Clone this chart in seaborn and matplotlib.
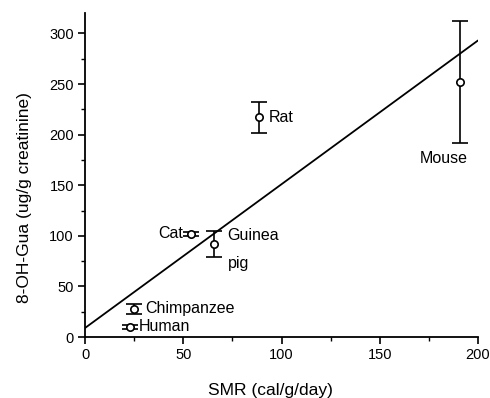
import matplotlib
matplotlib.use("Agg")
import matplotlib.pyplot as plt
import seaborn as sns
import pandas as pd
from matplotlib.ticker import MultipleLocator

species = ["Human", "Chimpanzee", "Cat", "Guinea pig", "Rat", "Mouse"]
smr = [23, 25, 54, 65.5, 88.5, 191]
oh_gua = [10, 28, 102, 92, 217, 252]
err = [2, 5, 2, 13, 15, 60]

fit_x = [0, 200]
fit_y = [9, 293]

sns.set_style("ticks")
plt.rcParams["font.family"] = ["Liberation Sans", "DejaVu Sans"]
plt.rcParams["text.color"] = "black"
plt.rcParams["axes.labelcolor"] = "black"

df = pd.DataFrame({"smr": smr, "gua": oh_gua, "err": err, "species": species})
fit = pd.DataFrame({"x": fit_x, "y": fit_y})

fig = plt.figure(figsize=(4.9, 3.98), dpi=100)
ax = fig.add_axes([0.1735, 0.153, 0.802, 0.814])

ax.errorbar(df["smr"], df["gua"], yerr=df["err"], fmt="none", ecolor="black",
            elinewidth=1.2, capsize=6, capthick=1.2, zorder=2)
sns.lineplot(data=fit, x="x", y="y", color="black", linewidth=1.3, ax=ax, zorder=3)
sns.scatterplot(data=df, x="smr", y="gua", marker="o", s=28, facecolor="white",
                edgecolor="black", linewidth=1.2, ax=ax, zorder=4)

lab_kw = dict(fontsize=11.5, color="black", va="center", textcoords="offset points")
offsets = {
    "Human": [((6, 0), "left", "Human")],
    "Chimpanzee": [((8, 0), "left", "Chimpanzee")],
    "Cat": [((-6, 0), "right", "Cat")],
    "Rat": [((7, 0), "left", "Rat")],
    "Guinea pig": [((10, 6), "left", "Guinea"), ((10, -14), "left", "pig")],
    "Mouse": [((-12, -55), "center", "Mouse")],
}
for s, x, y in zip(species, smr, oh_gua):
    for off, ha, t in offsets[s]:
        ax.annotate(t, (x, y), xytext=off, ha=ha, **lab_kw)

ax.set_xlim(0, 200)
ax.set_ylim(0, 320)
ax.xaxis.set_major_locator(MultipleLocator(50))
ax.xaxis.set_minor_locator(MultipleLocator(25))
ax.yaxis.set_minor_locator(MultipleLocator(25))
ax.set_yticks([0, 50, 100, 150, 200, 250, 300])
ax.tick_params(which="major", direction="out", length=5, width=1.2, labelsize=10.5,
               colors="black", pad=3)
ax.tick_params(which="minor", direction="out", length=3, width=1.0, colors="black")
ax.set_xlabel("SMR (cal/g/day)", fontsize=12.5)
ax.set_ylabel("8-OH-Gua (ug/g creatinine)", fontsize=12.5)
ax.xaxis.set_label_coords(0.473, -0.142)
ax.yaxis.set_label_coords(-0.135, 0.432)
sns.despine(ax=ax)
for sp in ["left", "bottom"]:
    ax.spines[sp].set_linewidth(1.3)
    ax.spines[sp].set_color("black")

fig.savefig("out.png", dpi=100)
